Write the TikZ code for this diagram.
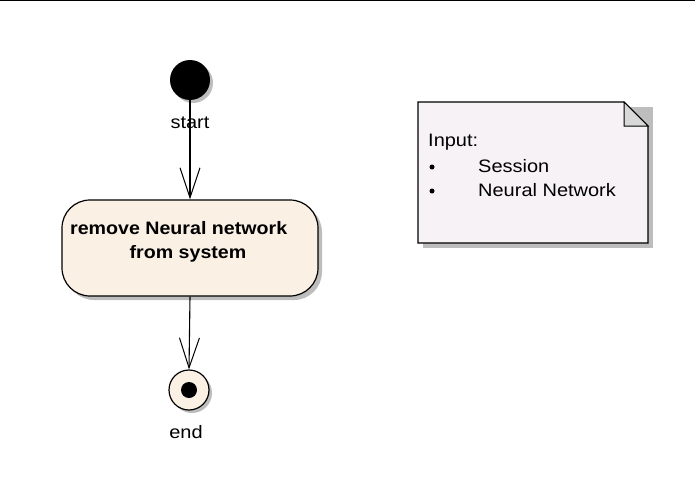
\documentclass[tikz,border=0pt]{standalone}
\usepackage{fontspec}
\setmainfont{Liberation Sans}
\newfontfamily\regf[FakeStretch=1.11]{Liberation Sans}
\newfontfamily\boldf[FakeStretch=1.09]{Liberation Sans Bold}
\usetikzlibrary{arrows.meta}
\definecolor{actfill}{HTML}{FAF0E3}
\definecolor{notefill}{HTML}{F6F2F6}
\definecolor{shadowgray}{HTML}{BDBDBD}
\definecolor{foldfill}{HTML}{D8D8D8}
\tikzset{
  flow/.style={draw=black, line width=1.1pt, -{Straight Barb[length=30pt,width=20pt,line width=1pt]}},
  lbl/.style={font=\regf\fontsize{18pt}{21pt}\selectfont, inner sep=0pt},
  blbl/.style={font=\boldf\fontsize{18pt}{21pt}\selectfont, inner sep=0pt},
  bulletdot/.style={circle, fill=black, minimum size=5pt, inner sep=0pt},
}
\begin{document}
\begin{tikzpicture}[x=1pt,y=-1pt]
\useasboundingbox (0,0) rectangle (695,492);
\draw[line width=1.2pt] (0,0.6) -- (695,0.6);
% start
\fill[shadowgray] (193,83) circle (20);
\node[circle, fill=black, minimum size=40pt, inner sep=0pt] (start) at (190,80) {};
\node[lbl] (startlbl) at (190,123) {start};
% action
\fill[shadowgray, rounded corners=28pt] (66,204) rectangle (322,300);
\node[draw=black, line width=1.2pt, fill=actfill, rounded corners=28pt, minimum width=256pt, minimum height=96pt, inner sep=0pt] (act) at (190,248) {};
\node[blbl, anchor=west] (t1) at (70,228) {remove Neural network};
\node[blbl] (t2) at (188,254) {from system};
% end
\fill[shadowgray] (192,393) circle (20);
\node[circle, draw=black, line width=1.2pt, fill=actfill, minimum size=40pt, inner sep=0pt] (end) at (189,390) {};
\node[circle, fill=black, minimum size=16pt, inner sep=0pt] (enddot) at (189,390) {};
\node[lbl] (endlbl) at (186,432) {end};
% connectors
\draw[flow] (190,100) -- (act.north -| 190,0);
\draw[flow] (act.south -| 190,0) -- (end.north -| 189,0);
% note
\fill[shadowgray] (423,107) -- (653,107) -- (653,248) -- (423,248) -- cycle;
\draw[line width=1.2pt, fill=notefill] (418,102) -- (624,102) -- (648,126) -- (648,243) -- (418,243) -- cycle;
\draw[line width=1pt, fill=foldfill] (624,102) -- (624,126) -- (648,126) -- cycle;
\node[lbl, anchor=west] (n0) at (428,142) {Input:};
\node[bulletdot] (n1) at (432,167) {};
\node[lbl, anchor=west] (n1t) at (478,166) {Session};
\node[bulletdot] (n2) at (432,191) {};
\node[lbl, anchor=west] (n2t) at (478,190) {Neural Network};
\end{tikzpicture}
\end{document}
